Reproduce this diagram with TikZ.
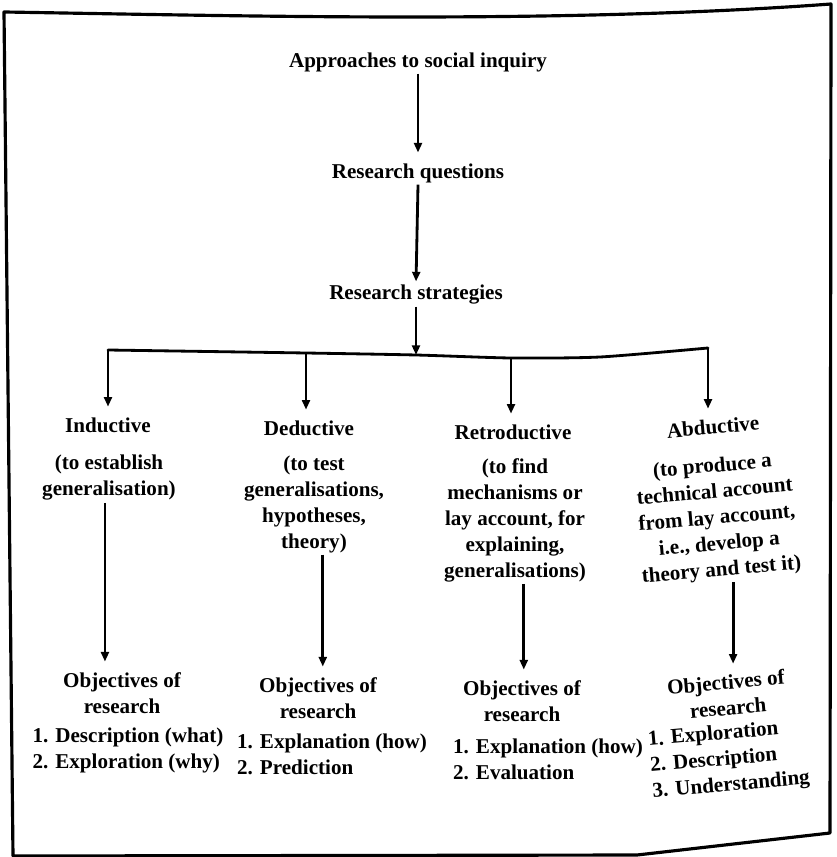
\documentclass[tikz,border=0pt]{standalone}
\usepackage{fontspec}
\setmainfont{Liberation Serif}
\usepackage{tikz}
\usetikzlibrary{arrows.meta,positioning}

\begin{document}
\begin{tikzpicture}[
    x=0.02cm, y=0.02cm,
    >={Triangle[length=5.5pt,width=4.5pt]},
    every node/.style={font=\fontsize{12}{14.8}\selectfont\bfseries, inner sep=1pt},
    level/.style={align=center},
    term/.style={align=center},
    note/.style={align=center},
    goal/.style={align=center},
    goallist/.style={align=left},
    arrow/.style={->, line width=1.6pt, shorten >=5pt},
    bar/.style={line width=1.6pt, line cap=round, line join=round},
    frame/.style={line width=1.8pt, line join=round}
]
    \useasboundingbox (0,0) rectangle (836,-857);

    % === OUTER FRAME ===
    \draw[frame] (4,-12) .. controls (250,-16) and (560,-24) .. (831,-4)
        -- (830,-833) -- (637,-855) -- (13,-856) -- cycle;

    % === TOP CHAIN ===
    \node[level] (inquiry) at (418,-62) {Approaches to social inquiry};
    \node[level] (questions) at (418,-173) {Research questions};
    \node[level] (strategies) at (416,-295) {Research strategies};

    \draw[arrow] (inquiry.south) -- (questions.north);
    \draw[arrow, shorten >=1pt] (questions.south) -- (strategies.north);

    % branch bar
    \coordinate (bInd) at (108,-350);
    \coordinate (bDed) at (306,-353);
    \coordinate (bMid) at (416,-355);
    \coordinate (bRet) at (511,-358);
    \coordinate (bAbd) at (708,-348);
    \draw[bar] plot[smooth, tension=0.4] coordinates {(bInd) (bDed) (bMid) (bRet) (600,-357) (bAbd)};
    \draw[arrow, shorten >=0pt] (strategies.south) -- (bMid);

    % === STRATEGIES ===
    \node[term] (inductive) at (108,-425) {Inductive};
    \node[term] (deductive) at (309,-428) {Deductive};
    \node[term] (retroductive) at (513,-432) {Retroductive};
    \node[term, rotate=5] (abductive) at (713,-427) {Abductive};

    \draw[arrow] (bInd) -- (bInd |- inductive.north);
    \draw[arrow] (bDed) -- (bDed |- deductive.north);
    \draw[arrow] (bRet) -- (bRet |- retroductive.north);
    \draw[arrow] (bAbd) -- (bAbd |- abductive.north);

    % purpose of each strategy
    \node[note] (inductiveNote) at (109,-478) {(to establish\\generalisation)};
    \node[note] (deductiveNote) at (314,-504) {(to test\\generalisations,\\hypotheses,\\theory)};
    \node[note] (retroductiveNote) at (515,-520) {(to find\\mechanisms or\\lay account, for\\explaining,\\generalisations)};
    \node[note, rotate=5] (abductiveNote) at (717,-519) {(to produce a\\technical account\\from lay account,\\i.e., develop a\\theory and test it)};

    % === OBJECTIVES ===
    \node[goal] (inductiveGoal) at (122,-693) {Objectives of\\research};
    \node[goal] (deductiveGoal) at (318,-698) {Objectives of\\research};
    \node[goal] (retroductiveGoal) at (522,-701) {Objectives of\\research};
    \node[goal, rotate=5] (abductiveGoal) at (727,-695) {Objectives of\\research};

    \node[goallist] (inductiveList) at (128,-750) {1. Description (what)\\2. Exploration (why)};
    \node[goallist] (deductiveList) at (332,-754) {1. Explanation (how)\\2. Prediction};
    \node[goallist] (retroductiveList) at (548,-759) {1. Explanation (how)\\2. Evaluation};
    \node[goallist, rotate=5] (abductiveList) at (729,-760) {1. Exploration\\2. Description\\3. Understanding};

    \draw[arrow] ([xshift=-2.3pt]inductiveNote.south) -- ([xshift=-2.3pt]inductiveNote.south |- inductiveGoal.north);
    \draw[arrow] ([xshift=5pt]deductiveNote.south) -- ([xshift=5pt]deductiveNote.south |- deductiveGoal.north);
    \draw[arrow] ([xshift=5pt]retroductiveNote.south) -- ([xshift=5pt]retroductiveNote.south |- retroductiveGoal.north);
    \draw[arrow] ([xshift=6pt]abductiveNote.south) -- ([xshift=6pt]abductiveNote.south |- abductiveGoal.north);
\end{tikzpicture}
\end{document}
